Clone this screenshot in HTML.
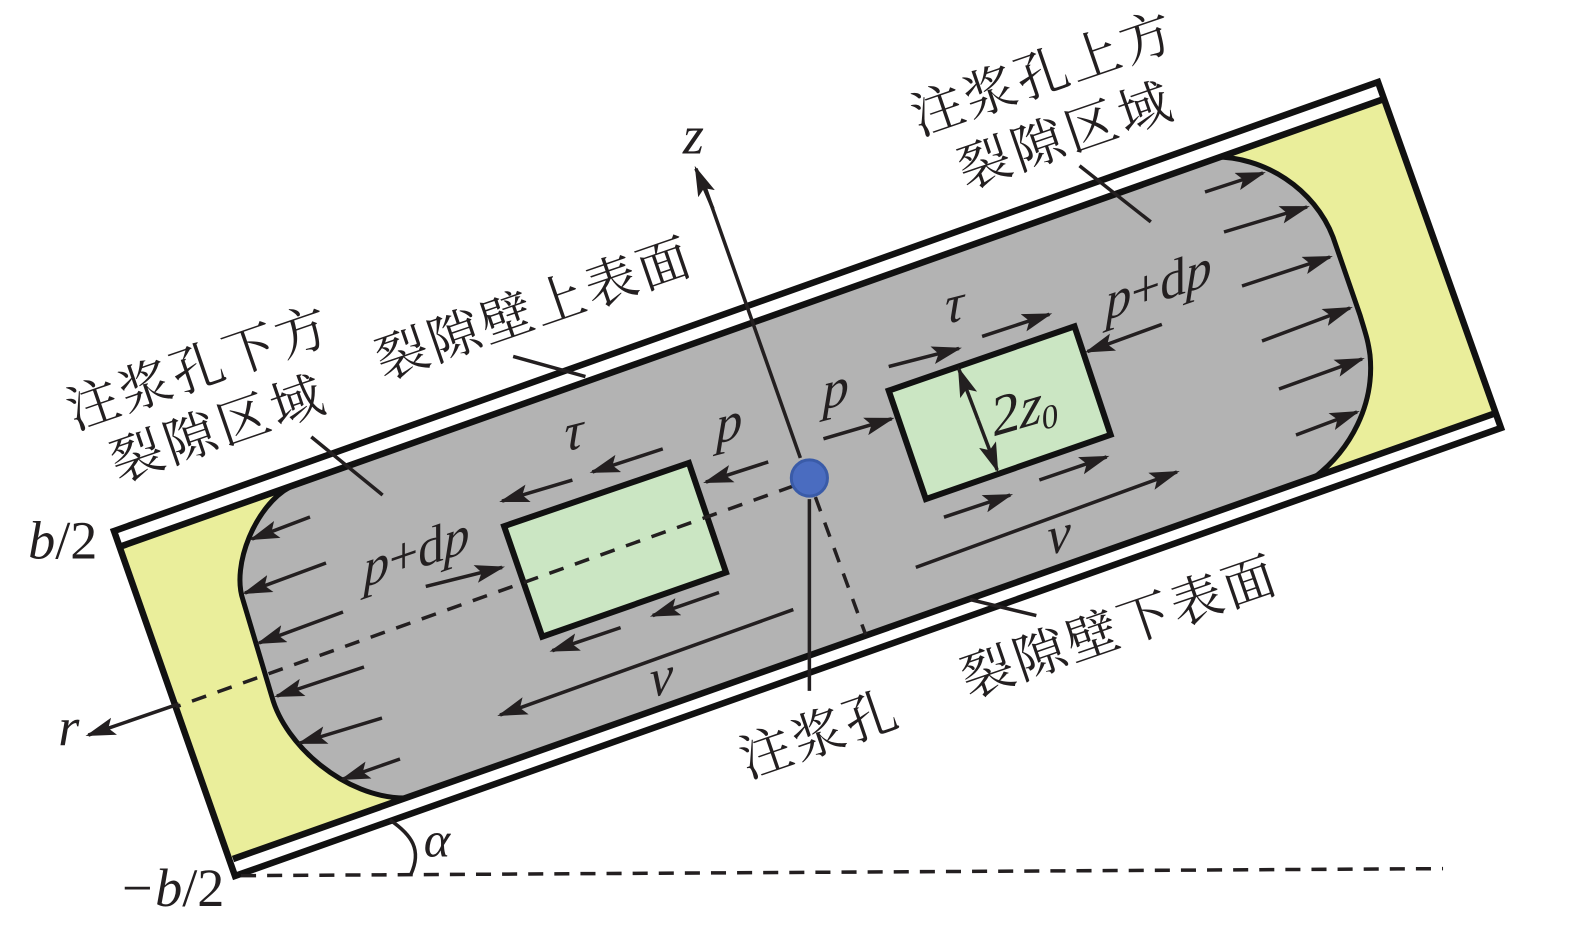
<!DOCTYPE html>
<html><head><meta charset="utf-8"><style>
html,body{margin:0;padding:0;background:#fff}
svg{display:block}
.c{font-family:"Noto Serif CJK SC","Liberation Serif",serif;font-size:52px;fill:#231f20}
.i{font-family:"Liberation Serif","Times New Roman",serif;font-style:italic;font-size:54px;fill:#231f20}
.r{font-style:normal}
</style></head><body>
<svg width="1575" height="932" viewBox="0 0 1575 932" xmlns="http://www.w3.org/2000/svg">
<defs><marker id="a" markerUnits="userSpaceOnUse" markerWidth="34" markerHeight="20" refX="27" refY="9" orient="auto"><path d="M0 0L30 9L0 18L6 9Z" fill="#231f20"/></marker></defs>
<path d="M123 547L1383 101L1496 413L232 858Z" fill="#eaee9b"/>
<path d="M290 487C256 505 231 565 243 600L272 697C285 745 345 798 405 798L1315 477C1350 450 1375 405 1370 355C1368 340 1366 335 1360 315L1333 237C1315 190 1265 155 1210 157Z" fill="#b3b3b3" stroke="#111" stroke-width="5"/>
<path d="M118 532L1378 87L1385 99L122 545Z M1496 413L1499 424L239 871L233 859Z" fill="#fff"/>
<path d="M122 546L1384 99M233 859L1496 413M114 531L1378 82L1501 428L235 876Z" fill="none" stroke="#111" stroke-width="6.5"/>
<g transform="scale(1.0042)">
<path d="M502 524L686 461L723 570L540 634Z" fill="#cbe6c3" stroke="#111" stroke-width="6"/>
<path d="M885 389L1070 325L1106 433L922 497Z" fill="#cbe6c3" stroke="#111" stroke-width="6"/>
<g stroke="#231f20" stroke-width="3.5" fill="none">
<path d="M790 484L175 704" stroke-dasharray="15 12"/>
<path d="M812 495L862 632" stroke-dasharray="15 12"/>
<path d="M240 872L1437 865" stroke-dasharray="15 11"/>
<path d="M797 456L702 186M806 497V688M310 435L381 493M1075 165L1146 221M511 355L583 375M966 597L1032 613"/>
<g marker-end="url(#a)">
<path d="M710 208L693 168"/>
<path d="M178 701L88 732"/>
<path d="M660 447L590 470"/><path d="M570 478L500 499"/><path d="M765 460L703 480"/><path d="M424 584L500 565"/><path d="M716 590L650 613"/><path d="M618 625L550 648"/><path d="M790 607L498 712"/>
<path d="M885 365L955 347"/><path d="M978 335L1045 313"/><path d="M820 437L888 417"/><path d="M1157 323L1083 350"/><path d="M940 515L1006 493"/><path d="M1035 478L1102 455"/><path d="M912 565L1172 470"/>
<path d="M974 418L955 368"/><path d="M974 418L993 468"/>
</g></g>
<circle cx="806" cy="476" r="18" fill="#4a6cc0" stroke="#3a5ba8" stroke-width="3"/>
<g class="c">
<text transform="translate(74 428) rotate(-19)" letter-spacing="3">注浆孔下方</text>
<text transform="translate(118 480) rotate(-19)" letter-spacing="4">裂隙区域</text>
<text transform="translate(382 378) rotate(-19)" letter-spacing="3">裂隙壁上表面</text>
<text transform="translate(915 135) rotate(-19)" letter-spacing="3">注浆孔上方</text>
<text transform="translate(962 188) rotate(-19)" letter-spacing="4">裂隙区域</text>
<text transform="translate(965 695) rotate(-19)" letter-spacing="3">裂隙壁下表面</text>
<text transform="translate(744 775) rotate(-19)" letter-spacing="3">注浆孔</text>
</g>
<g class="i">
<text x="680" y="153">z</text>
<text x="58" y="742">r</text>
<text x="28" y="556">b<tspan class="r">/2</tspan></text>
<text x="118" y="902">−b<tspan class="r">/2</tspan></text>
<text x="422" y="853" style="font-size:50px">α</text>
<text transform="matrix(.946 -.326 0 1 362 585)">p<tspan class="r">+d</tspan>p</text>
<text transform="matrix(.946 -.326 0 1 1101 319)">p<tspan class="r">+d</tspan>p</text>
<text transform="matrix(.97 -.25 0 1 713 442)">p</text>
<text transform="matrix(.97 -.25 0 1 819 408)">p</text>
<text transform="matrix(.97 -.25 0 1 562 450)">τ</text>
<text transform="matrix(.97 -.25 0 1 941 323)">τ</text>
<text transform="matrix(.97 -.25 0 1 647 695)">ν</text>
<text transform="matrix(.97 -.25 0 1 1043 553)">ν</text>
<text transform="matrix(.96 -.28 0 1 988 435)" style="font-size:58px"><tspan class="r">2</tspan>z<tspan class="r" dy="8" style="font-size:34px">0</tspan></text>
</g>
</g>
<g stroke="#231f20" stroke-width="3.5" fill="none">
<path d="M390 820C412 835 422 850 411 874"/>
<g marker-end="url(#a)">
<path d="M310 517L252 539"/><path d="M326 563L245 593"/><path d="M343 612L259 643"/><path d="M364 667L277 696"/><path d="M382 718L300 743"/><path d="M400 759L343 779"/>
<path d="M1205 192L1263 173"/><path d="M1224 232L1307 207"/><path d="M1242 286L1330 257"/><path d="M1262 341L1350 308"/><path d="M1279 389L1362 359"/><path d="M1296 435L1357 412"/>
</g></g>
</svg>
</body></html>
